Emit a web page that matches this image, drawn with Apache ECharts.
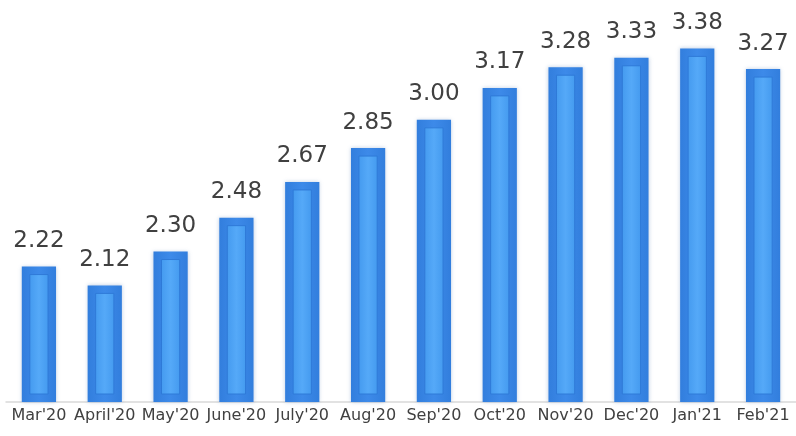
<!DOCTYPE html>
<html>
<head>
<meta charset="utf-8">
<script src="https://cdn.jsdelivr.net/npm/echarts@6/dist/echarts.min.js"></script>
<style>
  html, body { margin: 0; padding: 0; background: #fff; }
  #chart { width: 796px; height: 436px; }
</style>
</head>
<body>
<div id="chart"></div>
<script>
const months = ["Mar'20", "April'20", "May'20", "June'20", "July'20", "Aug'20",
  "Sep'20", "Oct'20", "Nov'20", "Dec'20", "Jan'21", "Feb'21"]
const values = [2.22, 2.12, 2.30, 2.48, 2.67, 2.85, 3.00, 3.17, 3.28, 3.33, 3.38, 3.27]
const yMin = 1.5
const yMax = 3.6

const chart = echarts.init(document.getElementById('chart'))

// inner bevel panel drawn on top of each bar
function innerPanel(params, api) {
  const top = api.coord([api.value(0), api.value(1)])
  const base = api.coord([api.value(0), yMin])
  const w = api.size([1, 0])[0] * 0.52
  const inset = 8
  const x = top[0] - w / 2 + inset
  const iw = w - inset * 2
  return {
    type: 'rect',
    shape: {x: x, y: top[1] + inset, width: iw, height: base[1] - top[1] - inset * 2},
    style: {
      fill: new echarts.graphic.LinearGradient(0, 0, 1, 0, [
        {offset: 0, color: '#449aef'},
        {offset: 0.5, color: '#55a9f8'},
        {offset: 1, color: '#449aef'}
      ]),
      stroke: '#2f7ad8',
      lineWidth: 1
    }
  }
}

chart.setOption({
  animation: false,
  grid: {left: 6, right: -4, top: 7, bottom: 34},
  xAxis: {
    type: 'category',
    data: months,
    axisTick: {show: false},
    axisLine: {lineStyle: {color: '#d9d9d9', width: 1.5}},
    axisLabel: {
      color: '#404040',
      fontFamily: 'DejaVu Sans',
      fontSize: 16,
      margin: 6,
      interval: 0
    }
  },
  yAxis: {
    type: 'value',
    min: yMin,
    max: yMax,
    show: false,
    splitLine: {show: false}
  },
  series: [
    {
      type: 'bar',
      data: values,
      barWidth: '52%',
      itemStyle: {
        color: new echarts.graphic.LinearGradient(0, 0, 1, 0, [
          {offset: 0, color: '#327edd'},
          {offset: 0.5, color: '#3d8ae9'},
          {offset: 1, color: '#327edd'}
        ]),
        shadowBlur: 4,
        shadowColor: 'rgba(40, 90, 160, 0.3)'
      },
      label: {
        show: true,
        position: 'top',
        distance: 14,
        color: '#404040',
        fontFamily: 'DejaVu Sans',
        fontSize: 23,
        formatter: p => p.value.toFixed(2)
      }
    },
    {
      type: 'custom',
      data: values.map((v, i) => [i, v]),
      renderItem: innerPanel,
      silent: true,
      z: 3
    }
  ]
})
</script>
</body>
</html>
